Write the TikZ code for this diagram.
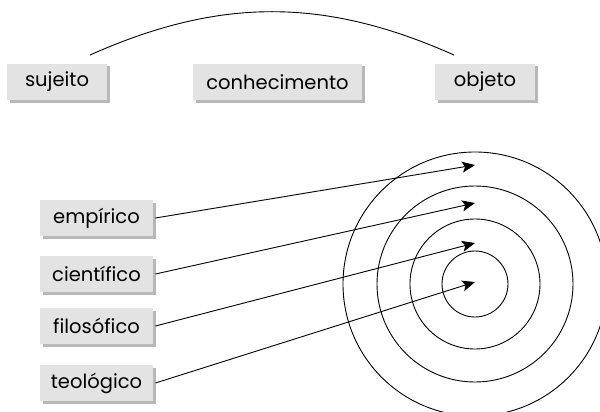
\documentclass[tikz,border=0pt]{standalone}
\usepackage{fontspec}
\setmainfont{Poppins}
\usepackage{tikz}
\usetikzlibrary{arrows.meta}
\usetikzlibrary{shadows}
\usepackage{xcolor}
\colorlet{boxcol}{black!11}
\colorlet{shadcol}{black!35}
\tikzstyle{lbl}=[fill=boxcol,inner sep=0pt,minimum height=36pt,
  font=\fontsize{19.5}{22}\selectfont,
  drop shadow={shadow xshift=2.5pt,shadow yshift=-2.5pt,fill=shadcol,opacity=0.8}]
\tikzstyle{ray}=[-{Stealth[length=13pt,width=11pt,inset=3pt]},line width=0.9pt]

\begin{document}
\begin{tikzpicture}[x=1pt,y=-1pt,line width=0.9pt]
  \useasboundingbox (0,0) rectangle (600,412);
  \def\cx{475}
  \def\cy{284}
  \coordinate (C) at (\cx,\cy);

  % top row
  \node[lbl,minimum width=100pt] (sujeito) at (57,82) {sujeito};
  \node[lbl,minimum width=169pt] (conhec) at (277.5,82) {conhecimento};
  \node[lbl,minimum width=100pt] (objeto) at (485,82) {objeto};
  \coordinate (arcA) at (90,55);
  \coordinate (arcB) at (454,55);
  \draw (arcA) to[bend left=24] (arcB);

  % target
  \foreach \r in {33,65,98,132}
    \draw (C) circle[radius=\r pt];

  % kinds of knowledge
  \node[lbl,minimum width=113pt] (empirico) at (96.5,218) {empírico};
  \node[lbl,minimum width=113pt] (cientif) at (96.5,274) {científico};
  \node[lbl,minimum width=113pt] (filosof) at (96.5,326) {filosófico};
  \node[lbl,minimum width=113pt] (teolog) at (96.5,383) {teológico};

  \coordinate (t1) at (\cx,165);
  \coordinate (t2) at (\cx,203);
  \coordinate (t3) at (\cx,243);
  \coordinate (t4) at (\cx,282);
  \draw[ray] ([xshift=2pt]empirico.east) -- (t1);
  \draw[ray] ([xshift=2pt]cientif.east) -- (t2);
  \draw[ray] ([xshift=2pt]filosof.east) -- (t3);
  \draw[ray] ([xshift=2pt]teolog.east) -- (t4);
\end{tikzpicture}
\end{document}
